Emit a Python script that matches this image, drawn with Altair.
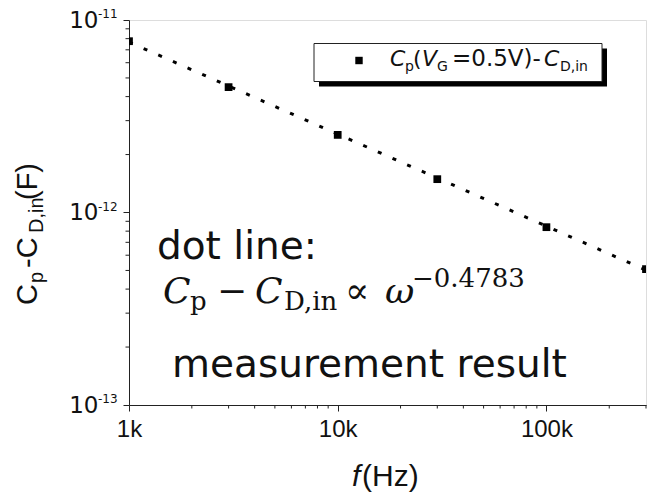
import altair as alt
import pandas as pd

# ---- data ----
freq_hz = [1000, 3000, 10000, 30000, 100000, 300000]
cap_diff_f = [7.76e-12, 4.48e-12, 2.53e-12, 1.49e-12, 8.39e-13, 5.08e-13]

fit_freq_hz = [1000, 300000]
fit_cap_f = [7.68e-12, 5.02e-13]

x_major = [1000, 10000, 100000]
x_minor = [2000, 3000, 4000, 5000, 6000, 7000, 8000, 9000,
           20000, 30000, 40000, 50000, 60000, 70000, 80000, 90000,
           200000, 300000]
y_major = [1e-13, 1e-12, 1e-11]
y_major_exp = ["-13", "-12", "-11"]
y_minor = [2e-13, 3e-13, 4e-13, 5e-13, 6e-13, 7e-13, 8e-13, 9e-13,
           2e-12, 3e-12, 4e-12, 5e-12, 6e-12, 7e-12, 8e-12, 9e-12]

W, H = 517, 385
SANS = "Liberation Sans"
WIDE = "DejaVu Sans"
SERIF = "DejaVu Serif"

xs = alt.Scale(type="log", domain=[1000, 300000], nice=False)
ys = alt.Scale(type="log", domain=[1e-13, 1e-11], nice=False)

pts = pd.DataFrame({"f": freq_hz, "c": cap_diff_f})
fit = pd.DataFrame({"f": fit_freq_hz, "c": fit_cap_f})
dummy = pd.DataFrame({"a": [0]})

fit_line = alt.Chart(fit).mark_line(
    color="black", strokeWidth=3, strokeDash=[4, 12], clip=True
).encode(
    x=alt.X("f:Q", scale=xs, axis=alt.Axis(
        values=x_major, labelExpr="format(datum.value/1000, 'd') + 'k'",
        title=None, labelFontSize=24, labelFont=SANS, labelColor="#111",
        tickSize=6, labelPadding=6, grid=False, domainColor="#222",
        tickColor="#222", labelFlush=False)),
    y=alt.Y("c:Q", scale=ys, axis=alt.Axis(
        values=y_major, labelExpr="'10'", title=None, labelFontSize=23,
        labelFont=WIDE, labelColor="#111", tickSize=6, labelPadding=25,
        grid=False, domainColor="#222", tickColor="#222",
        labelBaseline="middle")),
)

points = alt.Chart(pts).mark_square(color="black", size=60, opacity=1,
                                    clip=True).encode(
    x=alt.X("f:Q", scale=xs), y=alt.Y("c:Q", scale=ys))

xminor = alt.Chart(pd.DataFrame({"f": x_minor})).mark_rule(
    color="#222", strokeWidth=1).encode(
    x=alt.X("f:Q", scale=xs), y=alt.value(H), y2=alt.value(H + 3.5))
yminor = alt.Chart(pd.DataFrame({"c": y_minor})).mark_rule(
    color="#222", strokeWidth=1).encode(
    y=alt.Y("c:Q", scale=ys), x=alt.value(-3.5), x2=alt.value(0))

sup = alt.Chart(pd.DataFrame({"c": y_major, "e": y_major_exp})).mark_text(
    align="left", baseline="alphabetic", fontSize=12, font=WIDE,
    color="#111", dy=-2).encode(
    y=alt.Y("c:Q", scale=ys), x=alt.value(-31), text="e:N")


def txt(text, x, y, size, font=SANS, style="normal", angle=0, align="left"):
    props = dict(align=align, baseline="alphabetic", fontSize=size,
                 font=font, fontStyle=style, color="#111", text=text)
    if angle:
        props["angle"] = angle
    return alt.Chart(dummy).mark_text(**props).encode(
        x=alt.value(x), y=alt.value(y))


# y-axis title (rotated)
ytitle = [
    txt("C", -92, 285, 29, angle=270),
    txt("p", -86, 263, 20, angle=270),
    txt("-C", -92, 248, 29, angle=270),
    txt("D,in", -86, 213, 20, angle=270),
    txt("(F)", -92, 180, 29, angle=270),
]
# x-axis title
xtitle = [
    txt("f", 223, 466, 30, style="italic"),
    txt("(Hz)", 233, 466, 30),
]

# legend box with shadow
shadow = alt.Chart(dummy).mark_rect(color="black").encode(
    x=alt.value(190), x2=alt.value(478), y=alt.value(28.5), y2=alt.value(66.5))
box = alt.Chart(dummy).mark_rect(fill="white", stroke="#222",
                                 strokeWidth=1).encode(
    x=alt.value(185), x2=alt.value(473), y=alt.value(23.5), y2=alt.value(61.5))
leg_sym = alt.Chart(dummy).mark_square(color="black", size=55,
                                       opacity=1).encode(
    x=alt.value(230), y=alt.value(40.5))
leg = [
    txt("C", 261, 46, 22, font=WIDE, style="italic"),
    txt("p", 276, 51, 14, font=WIDE),
    txt("(", 284, 46, 22, font=WIDE),
    txt("V", 293, 46, 22, font=WIDE, style="italic"),
    txt("G", 308, 51, 14, font=WIDE),
    txt("=0.5V)-", 323, 46, 23, font=WIDE),
    txt("C", 415, 46, 22, font=WIDE, style="italic"),
    txt("D,in", 431, 51, 14, font=WIDE),
]

# annotations
ann = [
    txt("dot line:", 28, 239, 39, font=WIDE),
    txt("C", 34, 283, 36, font=SERIF, style="italic"),
    txt("p", 61, 290, 26, font=SERIF),
    txt("\u2212", 88, 283, 36, font=SERIF),
    txt("C", 126, 283, 36, font=SERIF, style="italic"),
    txt("D,in", 155, 290, 26, font=SERIF),
    txt("\u221d", 216, 283, 36, font=SERIF),
    txt("\u03c9", 256, 283, 36, font=SERIF, style="italic"),
    txt("\u22120.4783", 283, 267, 26, font=SERIF),
    txt("measurement result", 43, 357, 39, font=WIDE),
]

chart = alt.layer(
    fit_line, points, xminor, yminor, sup, *ytitle, *xtitle,
    shadow, box, leg_sym, *leg, *ann
).properties(
    width=W, height=H,
    autosize=alt.AutoSizeParams(type="none"),
    padding={"left": 129, "top": 20, "right": 12, "bottom": 90},
).configure_view(stroke="#222", strokeWidth=1).configure(background="white")

chart.save("out.html", embed_options={"renderer": "svg", "actions": False})
